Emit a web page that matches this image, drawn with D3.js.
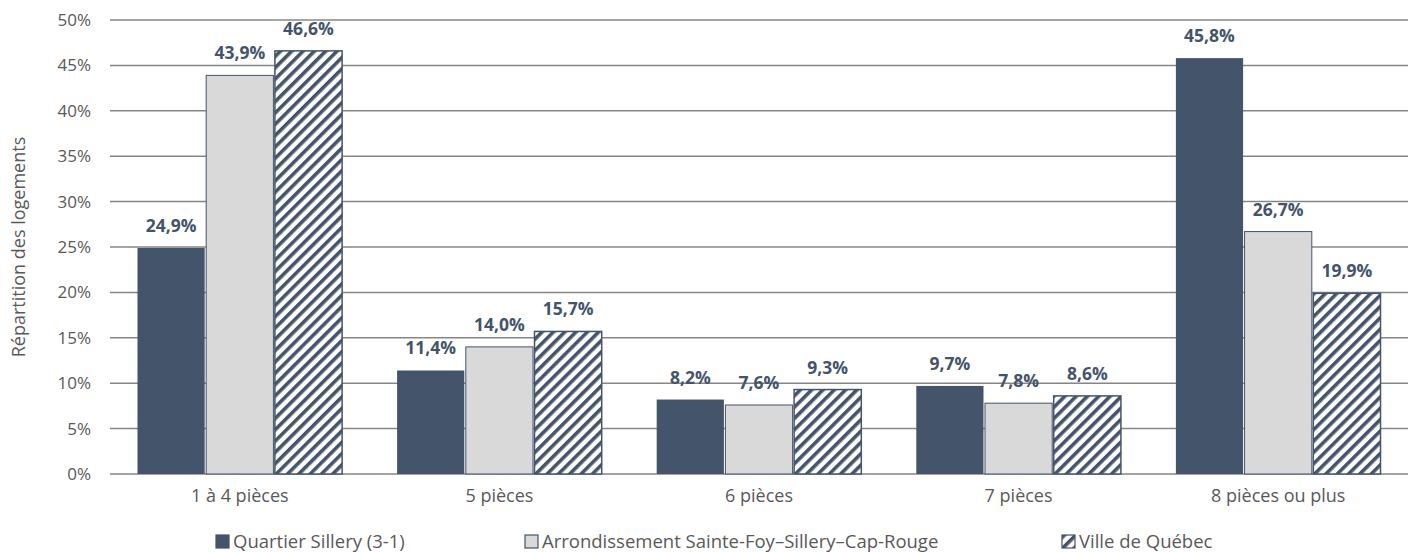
<!DOCTYPE html>
<html>
<head>
<meta charset="utf-8">
<script src="https://cdn.jsdelivr.net/npm/d3@7"></script>
<style>
  body { margin: 0; background: #fff; }
  text { font-family: "Open Sans", "Noto Sans", sans-serif; }
</style>
</head>
<body>
<div id="chart"></div>
<script>
// données
var categories = ['1 à 4 pièces', '5 pièces', '6 pièces', '7 pièces', '8 pièces ou plus'];
var seriesNames = ['Quartier Sillery (3-1)', 'Arrondissement Sainte-Foy\u2013Sillery\u2013Cap-Rouge', 'Ville de Québec'];
var sillery = [24.9, 11.4, 8.2, 9.7, 45.8];
var arrondissement = [43.9, 14.0, 7.6, 7.8, 26.7];
var villeQuebec = [46.6, 15.7, 9.3, 8.6, 19.9];
var yTicks = [0, 5, 10, 15, 20, 25, 30, 35, 40, 45, 50];

var width = 1417, height = 552;
var padLeft = 110, padRight = 1408, padTop = 20, padBottom = 474;
var navy = '#44546a';

var svg = d3.select('#chart').append('svg').attr('width', width).attr('height', height);

// motif hachuré
var defs = svg.append('defs');
var pat = defs.append('pattern')
  .attr('id', 'hatch')
  .attr('patternUnits', 'userSpaceOnUse')
  .attr('width', 8).attr('height', 8)
  .attr('patternTransform', 'rotate(45)');
pat.append('rect').attr('width', 8).attr('height', 8).attr('fill', '#fff');
pat.append('rect').attr('x', 0).attr('width', 3.6).attr('height', 8).attr('fill', navy);

var fills = [navy, '#d9d9d9', 'url(#hatch)'];
var series = [sillery, arrondissement, villeQuebec];

var x0 = d3.scaleBand().domain(categories).range([padLeft, padRight]).paddingInner(0.206).paddingOuter(0.103);
var x1 = d3.scaleBand().domain(d3.range(3)).range([0, x0.bandwidth()]);
var y = d3.scaleLinear().domain([0, 50]).range([padBottom, padTop]);

// grille
svg.append('g').selectAll('line')
  .data(yTicks)
  .enter().append('line')
  .attr('x1', padLeft).attr('x2', padRight)
  .attr('y1', d => y(d)).attr('y2', d => y(d))
  .attr('stroke', '#868686').attr('stroke-width', 1.5);

// étiquettes axe y
svg.append('g').selectAll('text')
  .data(yTicks)
  .enter().append('text')
  .attr('x', 91).attr('y', d => y(d))
  .attr('dy', '0.35em')
  .attr('text-anchor', 'end')
  .attr('font-size', 17)
  .attr('fill', '#595959')
  .text(d => d + '%');

svg.append('text')
  .attr('transform', 'translate(19,' + ((padTop + padBottom) / 2) + ') rotate(-90)')
  .attr('dy', '0.35em')
  .attr('text-anchor', 'middle')
  .attr('font-size', 18)
  .attr('fill', '#595959')
  .text('Répartition des logements');

// barres
var groups = svg.append('g').selectAll('g')
  .data(categories)
  .enter().append('g')
  .attr('transform', d => 'translate(' + x0(d) + ',0)');

groups.selectAll('rect')
  .data((d, i) => series.map((s, k) => ({ k: k, v: s[i] })))
  .enter().append('rect')
  .attr('x', d => x1(d.k) + 0.75)
  .attr('y', d => y(d.v))
  .attr('width', x1.bandwidth() - 1.5)
  .attr('height', d => padBottom - y(d.v))
  .attr('fill', d => fills[d.k])
  .attr('stroke', d => d.k === 0 ? 'none' : navy)
  .attr('stroke-width', d => d.k === 1 ? 1 : 1.5);

groups.selectAll('text')
  .data((d, i) => series.map((s, k) => ({ k: k, v: s[i] })))
  .enter().append('text')
  .attr('x', d => x1(d.k) + x1.bandwidth() / 2)
  .attr('y', d => y(d.v) - 16)
  .attr('text-anchor', 'middle')
  .attr('font-size', 17.5)
  .attr('font-weight', 'bold')
  .attr('fill', navy)
  .text(d => d.v.toFixed(1).replace('.', ',') + '%');

// axe x
svg.append('g').selectAll('text')
  .data(categories)
  .enter().append('text')
  .attr('x', d => x0(d) + x0.bandwidth() / 2)
  .attr('y', 502)
  .attr('text-anchor', 'middle')
  .attr('font-size', 18)
  .attr('fill', '#595959')
  .text(d => d);

// légende
var legendX = [216, 525, 1062];
var leg = svg.append('g').selectAll('g')
  .data(seriesNames)
  .enter().append('g')
  .attr('transform', (d, i) => 'translate(' + legendX[i] + ',535)');
leg.append('rect')
  .attr('width', 13).attr('height', 13)
  .attr('fill', (d, i) => fills[i])
  .attr('stroke', navy).attr('stroke-width', 1.2);
leg.append('text')
  .attr('x', 17).attr('y', 7)
  .attr('dy', '0.35em')
  .attr('font-size', 18.5)
  .attr('fill', '#595959')
  .text(d => d);
</script>
</body>
</html>
